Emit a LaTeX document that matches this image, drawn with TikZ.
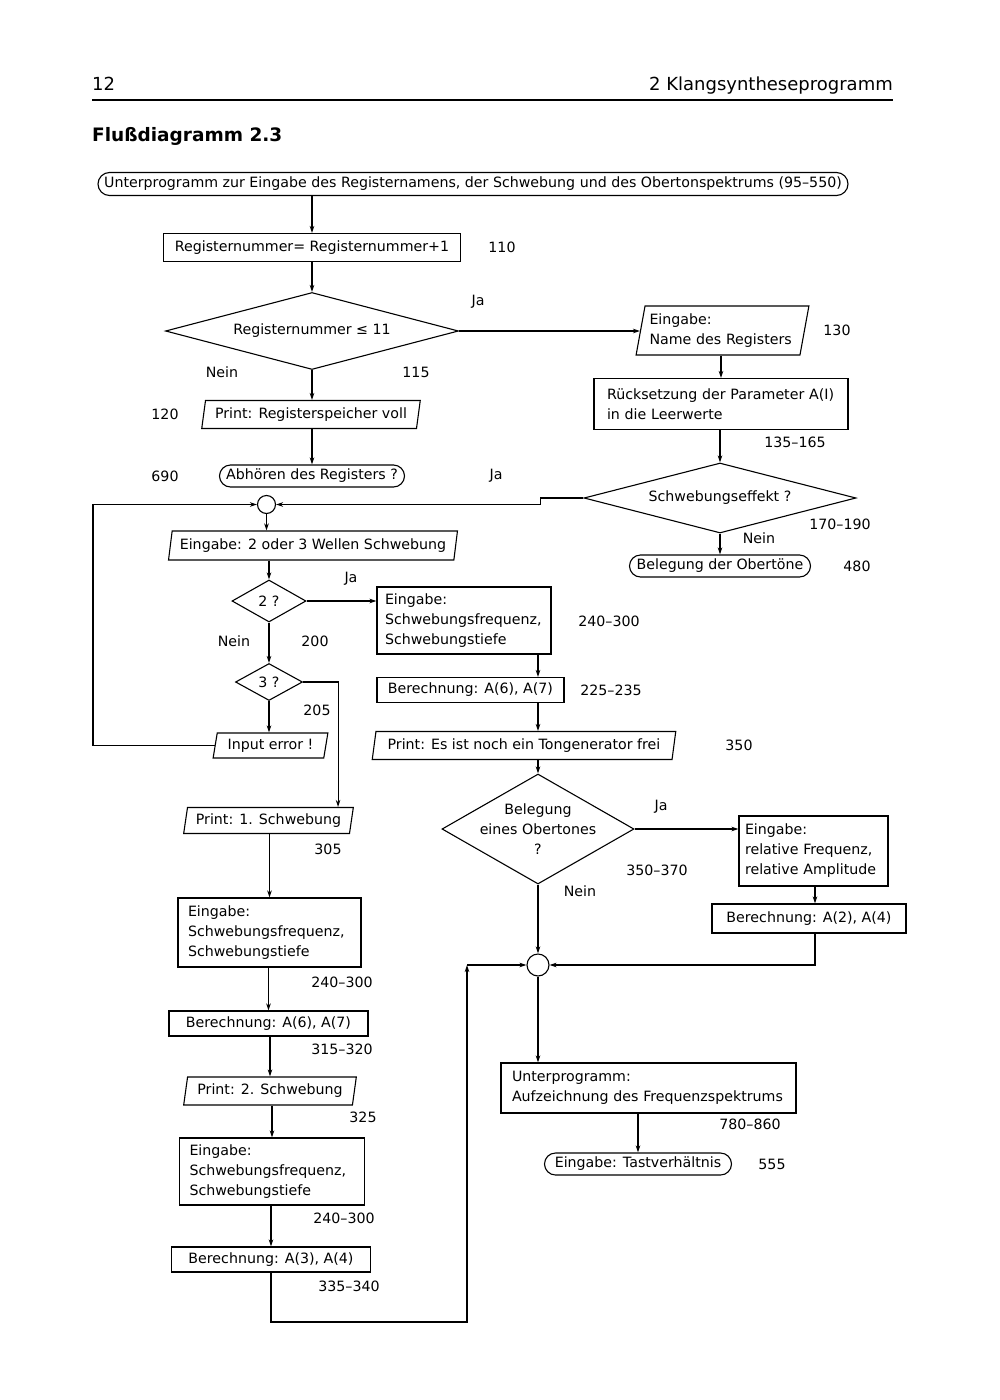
\documentclass[tikz,border=0pt]{standalone}
\usepackage{fontspec}
\setmainfont{DejaVu Sans}
\usetikzlibrary{shapes.geometric,shapes.misc,arrows.meta}
\begin{document}
\begin{tikzpicture}[x=1pt,y=-1pt,
  every node/.style={font=\fontsize{14.2}{20}\selectfont, inner sep=0pt},
  rect/.style={draw, rectangle, line width=1.1pt},
  rbox/.style={draw, rounded rectangle, line width=1.1pt},
  para/.style={draw, trapezium, trapezium left angle=76, trapezium right angle=104,
    trapezium stretches=true, line width=1.1pt},
  dia/.style={draw, diamond, line width=1.1pt},
  conn/.style={line width=1.1pt, -{Stealth[length=7pt,width=4.5pt]}},
  line/.style={line width=1.1pt},
  lab/.style={}]
\useasboundingbox (0,0) rectangle (1000,1400);
\fill[white] (0,0) rectangle (1000,1400);

% header
\node[anchor=base west, font=\fontsize{18}{20}\selectfont] (pg) at (92,90) {12};
\node[anchor=base east, font=\fontsize{18}{20}\selectfont] (hd) at (893,90) {2 Klangsyntheseprogramm};
\coordinate (rl) at (92,100);
\coordinate (rr) at (893,100);
\draw[line width=1.3pt] (rl) -- (rr);
\node[anchor=base west, font=\fontsize{18.5}{22}\bfseries] (ttl) at (92,141) {Flußdiagramm 2.3};

% column coordinates
\coordinate (colC) at (538,0);
\coordinate (colD) at (815,0);
\coordinate (colE) at (467,0);
\coordinate (loopL) at (93,0);
\coordinate (bot) at (271,1322);

% nodes
\node[rbox, minimum width=750, minimum height=23] (title) at (473,184)
  {Unterprogramm zur Eingabe des Registernamens, der Schwebung und des Obertonspektrums (95–550)};
\node[rect, minimum width=297, minimum height=28] (n110) at (312,247.5)
  {Registernummer= Registernummer+1};
\node[dia, aspect=3.8, minimum width=293, minimum height=77] (d1) at (312,331) {Registernummer ≤ 11};
\node[para, minimum width=173, minimum height=49, text width=146, align=left] (n130) at (722.5,330.5)
  {Eingabe:\\Name des Registers};
\node[rect, minimum width=254, minimum height=51, text width=228, inner xsep=13, align=left] (n135) at (721,404)
  {Rücksetzung der Parameter A(I)\\in die Leerwerte};
\node[dia, aspect=3.88, minimum width=272, minimum height=70] (d2) at (720,498) {Schwebungseffekt ?};
\node[rbox, minimum width=181, minimum height=22] (n480) at (720,566) {Belegung der Obertöne};
\node[para, minimum width=219, minimum height=28] (n120) at (311,414.5) {Print: Registerspeicher voll};
\node[rbox, minimum width=185, minimum height=22] (n690) at (312,476) {Abhören des Registers ?};
\node[draw, circle, line width=1.1pt, minimum size=18] (c1) at (266.5,504.5) {};
\node[para, minimum width=290, minimum height=29] (nin) at (313,545.5) {Eingabe: 2 oder 3 Wellen Schwebung};
\node[dia, aspect=1.76, minimum width=74, minimum height=42] (d3) at (269,601) {2 ?};
\node[dia, aspect=1.8, minimum width=67, minimum height=37] (d5) at (269,682) {3 ?};
\node[para, minimum width=115, minimum height=25] (nerr) at (270.5,745.5) {Input error !};
\node[rect, minimum width=174, minimum height=67, text width=158, inner xsep=8, align=left] (nS1) at (464,620.5)
  {Eingabe:\\Schwebungsfrequenz,\\Schwebungstiefe};
\node[rect, minimum width=187, minimum height=25] (nB67a) at (470.5,690) {Berechnung: A(6), A(7)};
\node[para, minimum width=304, minimum height=28] (nPr) at (524,745.5) {Print: Es ist noch ein Tongenerator frei};
\node[dia, aspect=1.75, minimum width=192, minimum height=110] (d4) at (538,829) {};
\node[align=center] (d4t) at (d4.center) {Belegung\\eines Obertones\\?};
\node[rect, minimum width=149, minimum height=70, text width=137, inner xsep=6, align=left] (nRel) at (813.5,851)
  {Eingabe:\\relative Frequenz,\\relative Amplitude};
\node[rect, minimum width=194, minimum height=29] (nB24) at (809,918.5) {Berechnung: A(2), A(4)};
\node[draw, circle, line width=1.1pt, minimum size=22] (c2) at (538,965) {};
\node[rect, minimum width=295, minimum height=50, text width=273, inner xsep=11, align=left] (nUP) at (648.5,1088)
  {Unterprogramm:\\Aufzeichnung des Frequenzspektrums};
\node[rbox, minimum width=187, minimum height=22] (nTast) at (638,1164) {Eingabe: Tastverhältnis};
\node[para, minimum width=170, minimum height=26] (nP1) at (268.5,820.5) {Print: 1. Schwebung};
\node[rect, minimum width=183, minimum height=69, text width=163, inner xsep=10, align=left] (nS2) at (269.5,932.5)
  {Eingabe:\\Schwebungsfrequenz,\\Schwebungstiefe};
\node[rect, minimum width=199, minimum height=25] (nB67b) at (268.5,1023.5) {Berechnung: A(6), A(7)};
\node[para, minimum width=173, minimum height=28] (nP2) at (270,1091) {Print: 2. Schwebung};
\node[rect, minimum width=185, minimum height=67, text width=165, inner xsep=10, align=left] (nS3) at (272,1171.5)
  {Eingabe:\\Schwebungsfrequenz,\\Schwebungstiefe};
\node[rect, minimum width=199, minimum height=25] (nB34) at (271,1259.5) {Berechnung: A(3), A(4)};

% labels
\node[lab] (l110) at (502,247) {110};
\node[lab] (lja1) at (478,302) {Ja};
\node[lab] (l130) at (837,330) {130};
\node[lab] (lnein1) at (222,372) {Nein};
\node[lab] (l115) at (416,372) {115};
\node[lab] (l120) at (165,414) {120};
\node[lab] (l135) at (795,442) {135–165};
\node[lab] (l690) at (165,476) {690};
\node[lab] (lja2) at (496,476) {Ja};
\node[lab] (l170) at (840,524) {170–190};
\node[lab] (lnein2) at (759,538) {Nein};
\node[lab] (l480) at (857,566) {480};
\node[lab] (lja3) at (351,579) {Ja};
\node[lab] (l240a) at (609,621) {240–300};
\node[lab] (lnein3) at (234,641) {Nein};
\node[lab] (l200) at (315,641) {200};
\node[lab] (l225) at (611,690) {225–235};
\node[lab] (l205) at (317,710) {205};
\node[lab] (l350) at (739,745) {350};
\node[lab] (lja4) at (661,807) {Ja};
\node[lab] (l305) at (328,849) {305};
\node[lab] (l350b) at (657,870) {350–370};
\node[lab] (lnein4) at (580,891) {Nein};
\node[lab] (l240b) at (342,982) {240–300};
\node[lab] (l315) at (342,1049) {315–320};
\node[lab] (l325) at (363,1117) {325};
\node[lab] (l780) at (750,1124) {780–860};
\node[lab] (l555) at (772,1164) {555};
\node[lab] (l240c) at (344,1218) {240–300};
\node[lab] (l335) at (349,1286) {335–340};

% connectors
\draw[conn] (title.south -| n110.north) -- (n110.north);
\draw[conn] (n110.south) -- (d1.north);
\draw[conn] (d1.east) -- (d1.east -| n130.west);
\draw[conn] (n135.north |- n130.south) -- (n135.north);
\draw[conn] (n135.south -| d2.north) -- (d2.north);
\draw[conn] (d2.south) -- (d2.south |- n480.north);
\draw[conn] (d1.south) -- (d1.south |- n120.north);
\draw[conn] (n690.north |- n120.south) -- (n690.north);
\draw[conn] (d2.west) -- ++(-43,0) |- (c1.east);
\draw[conn] (nerr.west) -- (nerr.west -| loopL) |- (c1.west);
\draw[conn] (c1.south) -- (c1.south |- nin.north);
\draw[conn] (d3.north |- nin.south) -- (d3.north);
\draw[conn] (d3.east) -- (d3.east -| nS1.west);
\draw[conn] (d3.south) -- (d5.north);
\draw[conn] (d5.south) -- (d5.south |- nerr.north);
\draw[conn] (d5.east) -- ++(35,0) coordinate (k3) -- (k3 |- nP1.north);
\draw[conn] (nS1.south -| colC) -- (nB67a.north -| colC);
\draw[conn] (nB67a.south -| colC) -- (nPr.north -| colC);
\draw[conn] (nPr.south -| colC) -- (d4.north);
\draw[conn] (d4.east) -- (d4.east -| nRel.west);
\draw[conn] (nRel.south -| colD) -- (nB24.north -| colD);
\draw[conn] (nB24.south -| colD) |- (c2.east);
\draw[conn] (d4.south) -- (c2.north);
\draw[conn] (nB34.south -| bot) -- (bot) -| (c2.west -| colE);
\draw[conn] (c2.west -| colE) -- (c2.west);
\draw[conn] (c2.south) -- (c2.south |- nUP.north);
\draw[conn] (nTast.north |- nUP.south) -- (nTast.north);
\draw[conn] (nS2.north |- nP1.south) -- (nS2.north);
\draw[conn] (nB67b.north |- nS2.south) -- (nB67b.north);
\draw[conn] (nP2.north |- nB67b.south) -- (nP2.north);
\draw[conn] (nS3.north |- nP2.south) -- (nS3.north);
\draw[conn] (nB34.north |- nS3.south) -- (nB34.north);
\end{tikzpicture}
\end{document}
